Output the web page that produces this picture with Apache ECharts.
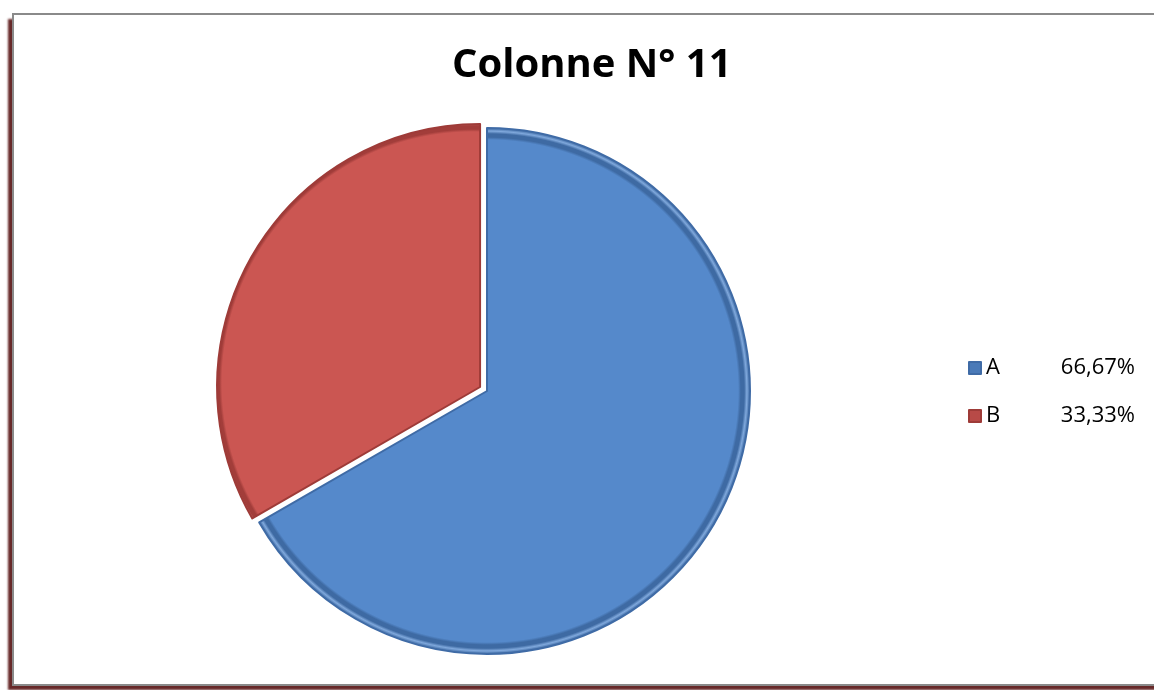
<!DOCTYPE html>
<html>
<head>
<meta charset="utf-8">
<script src="https://cdn.jsdelivr.net/npm/echarts@6/dist/echarts.min.js"></script>
<style>html,body{margin:0;padding:0;background:#fff;}#c{width:1154px;height:690px;}</style>
</head>
<body>
<div id="c"></div>
<script>
var categories = ['A', 'B'];
var values = [66.67, 33.33];
var percentLabels = ['66,67%', '33,33%'];
var titleText = 'Colonne N° 11';

var CX = 487, CY = 391, R = 263, OFF = 8;
var ang = 150 * Math.PI / 180;
var redCX = CX + OFF * Math.cos(ang), redCY = CY - OFF * Math.sin(ang);

function bevel(cx, cy, base, light, dark) {
  return new echarts.graphic.RadialGradient(cx, cy, R, [
    {offset: 0, color: base},
    {offset: 0.955, color: base},
    {offset: 0.965, color: dark},
    {offset: 0.978, color: dark},
    {offset: 0.988, color: light},
    {offset: 1, color: dark}
  ], true);
}
var styles = [
  {color: bevel(CX, CY, '#5589CB', '#7FA8DC', '#3E6AA3'), borderColor: '#3F6BA6', borderWidth: 2},
  {color: bevel(redCX, redCY, '#CB5652', '#E07C78', '#A23D3A'), borderColor: '#9E3B38', borderWidth: 2}
];
var legendColors = ['#4A7AB8', '#B84A47'];

var chart = echarts.init(document.getElementById('c'));
chart.setOption({
  animation: false,
  graphic: [{
    type: 'rect',
    shape: {x: 13, y: 14, width: 1160, height: 671},
    style: {fill: '#fff',
      shadowColor: 'rgba(95,30,30,0.95)', shadowOffsetX: -5, shadowOffsetY: 5, shadowBlur: 2},
    z: -11
  }, {
    type: 'rect',
    shape: {x: 13, y: 14, width: 1160, height: 671},
    style: {fill: '#fff', stroke: '#8a8a8a', lineWidth: 2},
    z: -10
  }],
  title: {
    text: titleText, left: 447, top: 41,
    textStyle: {fontFamily: 'Open Sans', fontWeight: 'bold', fontSize: 40, color: '#000'}
  },
  legend: {
    orient: 'vertical', left: 963, top: 351,
    itemWidth: 12, itemHeight: 12, itemGap: 24,
    icon: 'rect',
    data: categories.map(function (c, i) { return {name: c, itemStyle: {color: legendColors[i]}}; }),
    formatter: function (name) {
      var i = categories.indexOf(name);
      return '{n|' + name + '}{v|' + percentLabels[i] + '}';
    },
    textStyle: {
      fontFamily: 'Open Sans', fontSize: 22, color: '#000', lineHeight: 24,
      rich: {
        n: {width: 66, fontFamily: 'Open Sans', fontSize: 22, lineHeight: 24, color: '#000'},
        v: {width: 83, align: 'right', fontFamily: 'Open Sans', fontSize: 22, lineHeight: 24, color: '#000'}
      }
    }
  },
  series: [{
    type: 'pie',
    center: [CX, CY],
    radius: R,
    startAngle: 90,
    clockwise: true,
    selectedMode: 'single',
    selectedOffset: OFF,
    label: {show: false},
    labelLine: {show: false},
    emphasis: {disabled: true},
    data: categories.map(function (c, i) {
      return {name: c, value: values[i], selected: i === 1, itemStyle: styles[i]};
    })
  }]
});
</script>
</body>
</html>
